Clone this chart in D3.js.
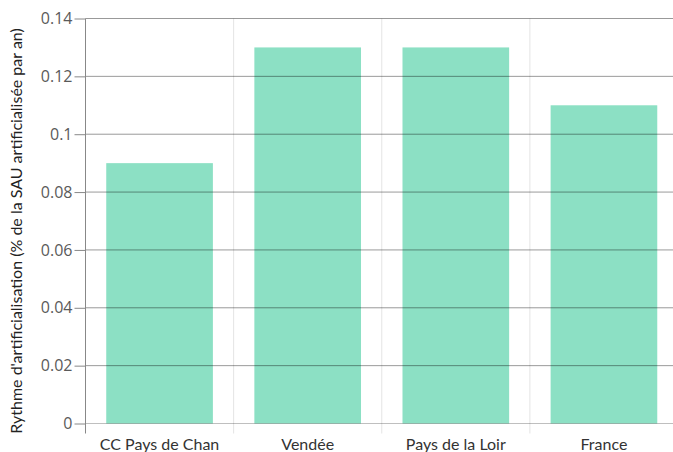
<!DOCTYPE html>
<html>
<head>
<meta charset="utf-8">
<script src="https://cdn.jsdelivr.net/npm/d3@7"></script>
<style>
  body { margin: 0; background: #fff; }
  .yAxis text { font-family: "Open Sans", sans-serif; font-size: 16px; fill: #5a5a5a; }
  .xLabel { font-family: Lato, sans-serif; font-size: 16px; fill: #333; }
  .yTitle { font-family: Lato, sans-serif; font-size: 16px; fill: #222; }
</style>
</head>
<body>
<div id="chartDiv"></div>
<script>
const categories = ["CC Pays de Chan", "Vendée", "Pays de la Loir", "France"];
const values = [0.09, 0.13, 0.13, 0.11];
const yTicks = [0, 0.02, 0.04, 0.06, 0.08, 0.1, 0.12, 0.14];
const yTitle = "Rythme d'artificialisation (% de la SAU artificialisée par an)";

const width = 673, height = 452;
const margin = {top: 18.5, right: -5, bottom: 28.5, left: 85.5};

let svg = d3.select("#chartDiv").append("svg")
    .attr("width", width)
    .attr("height", height);

let x = d3.scaleBand()
    .domain(categories)
    .range([margin.left, width - margin.right])
    .paddingInner(0.28)
    .paddingOuter(0.14);

let y = d3.scaleLinear()
    .domain([0, 0.14])
    .range([height - margin.bottom, margin.top]);

// vertical separators between categories
let step = x.step();
let bounds = categories.map(c => x(c) - x.paddingOuter() * step);
svg.selectAll('line.vgrid')
    .data(bounds.slice(1))
    .enter()
    .append('line')
    .attr('class', 'vgrid')
    .attr('x1', d => d).attr('x2', d => d)
    .attr('y1', margin.top).attr('y2', height - margin.bottom + 10)
    .style('stroke', '#e4e4e4')
    .style('stroke-width', 1);

// bars
svg.selectAll('rect.bar')
    .data(values)
    .enter()
    .append('rect')
    .attr('class', 'bar')
    .attr('x', (d, i) => x(categories[i]))
    .attr('width', x.bandwidth())
    .attr('y', d => y(d))
    .attr('height', d => y(0) - y(d))
    .style('fill', '#8ce0c4');

// horizontal grid on top of bars
svg.selectAll('line.hgrid')
    .data(yTicks)
    .enter()
    .append('line')
    .attr('class', 'hgrid')
    .attr('x1', margin.left).attr('x2', width)
    .attr('y1', d => y(d)).attr('y2', d => y(d))
    .style('stroke', '#000')
    .style('stroke-opacity', d => d === 0 ? 0.25 : 0.4)
    .style('stroke-width', 1);

// y axis
let yAxis = d3.axisLeft(y)
    .tickValues(yTicks)
    .tickSize(11)
    .tickPadding(2)
    .tickFormat(d => d3.format('')(+d.toFixed(2)));

let gy = svg.append('g')
    .attr('class', 'axis yAxis')
    .attr('transform', `translate(${margin.left}, 0)`)
    .call(yAxis);
gy.select('.domain').remove();
gy.selectAll('.tick line').style('stroke', '#888');
gy.append('line')
    .attr('x1', 0).attr('x2', 0)
    .attr('y1', margin.top).attr('y2', height - margin.bottom + 10)
    .style('stroke', '#888');

// category labels
svg.selectAll('text.xLabel')
    .data(categories)
    .enter()
    .append('text')
    .attr('class', 'xLabel')
    .attr('x', d => x(d) + x.bandwidth() / 2)
    .attr('y', height - 2)
    .style('text-anchor', 'middle')
    .text(d => d);

// y title
svg.append('text')
    .attr('class', 'yTitle')
    .attr('transform', `translate(22, ${(margin.top + height - margin.bottom) / 2 + 10}) rotate(-90)`)
    .style('text-anchor', 'middle')
    .text(yTitle);
</script>
</body>
</html>
